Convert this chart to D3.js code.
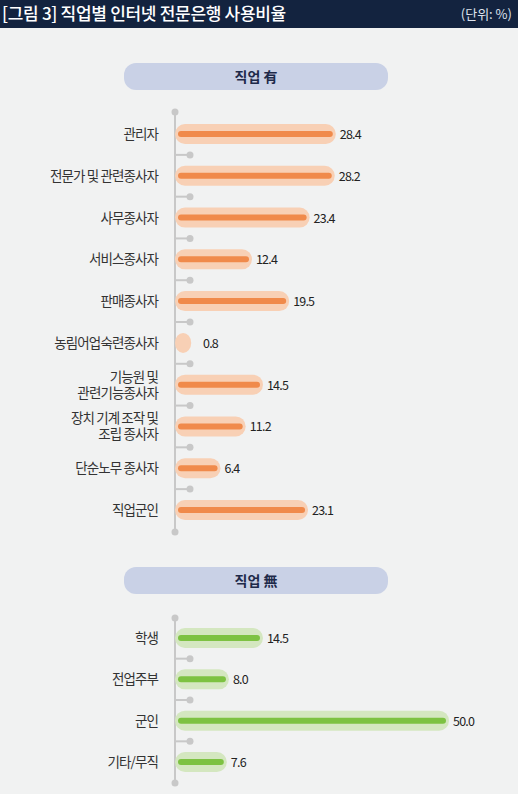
<!DOCTYPE html>
<html><head><meta charset="utf-8">
<script src="https://cdn.jsdelivr.net/npm/d3@7"></script>
<style>body{margin:0;background:#f1f2f2;}text{font-family:"Noto Sans CJK KR","Noto Sans",sans-serif;}</style>
</head><body><svg id="c" width="518" height="794"></svg>
<script>
const jobs = ["관리자","전문가 및 관련종사자","사무종사자","서비스종사자","판매종사자","농림어업숙련종사자","기능원 및\n관련기능종사자","장치 기계 조작 및\n조립 종사자","단순노무 종사자","직업군인"];
const jobVals = [28.4,28.2,23.4,12.4,19.5,0.8,14.5,11.2,6.4,23.1];
const noJobs = ["학생","전업주부","군인","기타/무직"];
const noJobVals = [14.5,8.0,50.0,7.6];

const svg = d3.select("#c");
svg.append("rect").attr("width",518).attr("height",794).attr("fill","#f1f2f2");
svg.append("rect").attr("width",518).attr("height",28).attr("fill","#13233f");
svg.append("text").attr("x",2).attr("y",20).attr("fill","#fff").attr("font-size",17).attr("font-weight",500).attr("letter-spacing",-0.3).text("[그림 3]  직업별 인터넷 전문은행 사용비율");
svg.append("text").attr("x",512).attr("y",19).attr("text-anchor","end").attr("fill","#dfe4ee").attr("font-size",13).text("(단위: %)");

const x = d3.scaleLinear().domain([0,50]).range([181,443]);
const axisX = 175;

function section(title, ty, cats, vals, y0, y1, top, bot, inner, outer){
  svg.append("rect").attr("x",124).attr("y",ty).attr("width",264).attr("height",27).attr("rx",12).attr("fill","#c9d1e6");
  svg.append("text").attr("x",256).attr("y",ty+19).attr("text-anchor","middle").attr("fill","#1e2a4a").attr("font-size",14).attr("font-weight",700).text(title);
  const y = d3.scalePoint().domain(cats).range([y0,y1]);
  const step = y.step();
  svg.append("line").attr("x1",axisX).attr("x2",axisX).attr("y1",top).attr("y2",bot).attr("stroke","#c8c8c8").attr("stroke-width",2);
  svg.selectAll(null).data([top,bot]).enter().append("circle").attr("cx",axisX).attr("cy",d=>d).attr("r",3.5).attr("fill","#c8c8c8");
  const mids = cats.slice(1).map(c=>y(c)-step/2);
  const g = svg.append("g");
  g.selectAll("line.t").data(mids).enter().append("line").attr("x1",axisX).attr("x2",190).attr("y1",d=>d).attr("y2",d=>d).attr("stroke","#c8c8c8").attr("stroke-width",2);
  g.selectAll("circle.t").data(mids).enter().append("circle").attr("cx",190).attr("cy",d=>d).attr("r",3.5).attr("fill","#c8c8c8");
  const rows = svg.selectAll(null).data(cats.map((c,i)=>({c,v:vals[i]}))).enter().append("g");
  rows.append("rect").attr("x",axisX).attr("y",d=>y(d.c)-10).attr("height",20).attr("rx",10)
    .attr("width",d=>Math.max(x(d.v)-axisX+6,8)).attr("fill",outer);
  rows.append("line").attr("x1",x(0)).attr("x2",d=>Math.max(x(d.v),x(0)+0.1)).attr("y1",d=>y(d.c)).attr("y2",d=>y(d.c))
    .attr("stroke",inner).attr("stroke-width",d=>d.v<2?0:6).attr("stroke-linecap","round");
  rows.append("text").attr("x",d=>Math.max(x(d.v)+10,203)).attr("y",d=>y(d.c)+5).attr("font-size",12.5).attr("fill","#222")
    .attr("font-family","'Liberation Sans Narrow','DejaVu Sans Condensed',sans-serif").attr("letter-spacing",-0.8).text(d=>d.v.toFixed(1));
  rows.each(function(d){
    const lines = d.c.split("\n");
    const t = d3.select(this).append("text").attr("x",158).attr("text-anchor","end").attr("font-size",13.5).attr("fill","#333").attr("letter-spacing",-0.9);
    lines.forEach((l,i)=>t.append("tspan").attr("x",158).attr("y",y(d.c)+5+(i-(lines.length-1)/2)*16).text(l));
  });
}
section("직업 有",63,jobs,jobVals,134,510,112,532,"#f08a4b","#f8d0b5");
section("직업 無",567,noJobs,noJobVals,638,762,618,783,"#7dc242","#d4e7c0");
</script></body></html>
